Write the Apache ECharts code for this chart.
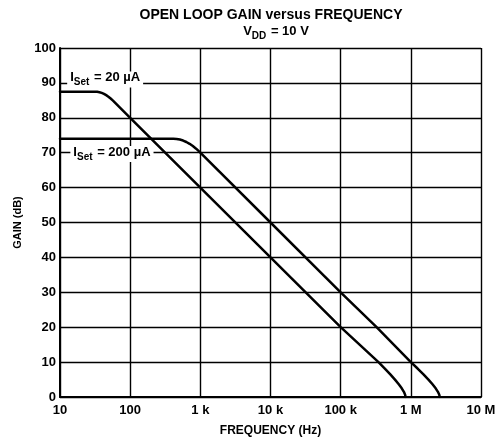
<!DOCTYPE html>
<html>
<head>
<meta charset="utf-8">
<script src="https://cdn.jsdelivr.net/npm/echarts@6/dist/echarts.min.js"></script>
<style>
html,body{margin:0;padding:0;background:#fff;}
#c{width:502px;height:442px;}
</style>
</head>
<body>
<div id="c"></div>
<script>
// Data: [frequency (Hz), gain (dB)]
var curve20uA = [
  [10, 87.5], [31.5, 87.5], [33.9, 87.46], [36.5, 87.34], [39.3, 87.14], [42.3, 86.86],
  [45.5, 86.49], [49.0, 86.05], [52.7, 85.53], [56.9, 84.93], [100, 80],
  [1000, 60], [10000, 40], [100000, 20], [346000, 10],
  [426000, 8.16], [510000, 6.48], [594000, 4.98], [673000, 3.64], [742000, 2.48],
  [796000, 1.48], [829000, 0.66], [841000, 0]
];
var curve200uA = [
  [10, 74], [412, 74], [459, 73.94], [510, 73.77], [568, 73.48], [632, 73.07],
  [703, 72.55], [782, 71.91], [870, 71.16], [968, 70.29],
  [10000, 50], [100000, 30], [325000, 20], [1000000, 10],
  [1249000, 8.16], [1514000, 6.48], [1782000, 4.98], [2036000, 3.64], [2259000, 2.48],
  [2432000, 1.48], [2543000, 0.66], [2581000, 0]
];
var xTickValues = [10, 100, 1000, 10000, 100000, 1000000, 10000000];
var xTickLabels = ['10', '100', '1 k', '10 k', '100 k', '1 M', '10 M'];
var seriesNames = ['ISet = 20 µA', 'ISet = 200 µA'];
var labelAnchors = [[44, 91], [55, 69.6]];

var FONT = "'Liberation Sans', Arial, sans-serif";
var chart = echarts.init(document.getElementById('c'));

function setLabel(rest) {
  return '{i|I}{s|Set}{i|' + rest + '}';
}
var richIset = {
  i: {fontFamily: FONT, fontSize: 13, fontWeight: 'bold', color: '#000', lineHeight: 16, verticalAlign: 'top'},
  s: {fontFamily: FONT, fontSize: 10, fontWeight: 'bold', color: '#000', lineHeight: 16, verticalAlign: 'bottom', padding: [5, 1, 0, 0]}
};

chart.setOption({
  animation: false,
  backgroundColor: '#fff',
  grid: {left: 60, right: 21, top: 48, bottom: 44},
  graphic: [
    {type: 'text', x: 271, y: 15, style: {text: 'OPEN LOOP GAIN versus FREQUENCY', fill: '#000',
      font: 'bold 14px ' + FONT, align: 'center', verticalAlign: 'middle'}},
    {type: 'text', x: 276, y: 33, style: {text: '{i|V}{s|DD}{i| = 10 V}', align: 'center', verticalAlign: 'middle',
      rich: {
        i: {fontFamily: FONT, fontSize: 13, fontWeight: 'bold', fill: '#000', lineHeight: 16, verticalAlign: 'top'},
        s: {fontFamily: FONT, fontSize: 10, fontWeight: 'bold', fill: '#000', lineHeight: 16, verticalAlign: 'bottom', padding: [5, 1, 0, 0]}
      }}}
  ],
  xAxis: {
    type: 'log', logBase: 10, min: 10, max: 10000000,
    name: 'FREQUENCY (Hz)', nameLocation: 'middle', nameGap: 28,
    nameTextStyle: {fontFamily: FONT, fontSize: 12, fontWeight: 'bold', color: '#000'},
    axisLine: {lineStyle: {color: '#000', width: 2}},
    axisTick: {show: false},
    minorTick: {show: false},
    splitLine: {show: true, lineStyle: {color: '#000', width: 1.4}},
    axisLabel: {
      color: '#000', fontFamily: FONT, fontSize: 13, fontWeight: 'bold', margin: 7,
      formatter: function (v) {
        for (var k = 0; k < xTickValues.length; k++) {
          if (Math.abs(Math.log10(v) - Math.log10(xTickValues[k])) < 1e-6) return xTickLabels[k];
        }
        return '';
      }
    }
  },
  yAxis: {
    type: 'value', min: 0, max: 100, interval: 10,
    name: 'GAIN (dB)', nameLocation: 'middle', nameGap: 36,
    nameTextStyle: {fontFamily: FONT, fontSize: 11, fontWeight: 'bold', color: '#000'},
    axisLine: {show: true, lineStyle: {color: '#000', width: 2}},
    axisTick: {show: false},
    splitLine: {show: true, lineStyle: {color: '#000', width: 1.4}},
    axisLabel: {color: '#000', fontFamily: FONT, fontSize: 13, fontWeight: 'bold', margin: 4}
  },
  series: [
    {
      name: seriesNames[0], type: 'line', data: curve20uA, showSymbol: false, smooth: false,
      lineStyle: {color: '#000', width: 2.5, join: 'round', cap: 'round'}, z: 3,
      markPoint: {
        symbol: 'rect', symbolSize: 1, itemStyle: {color: 'rgba(0,0,0,0)'},
        label: {show: true, position: 'inside', formatter: setLabel(' = 20 µA'), backgroundColor: '#fff',
          padding: [0, 3, 0, 3], rich: richIset},
        data: [{coord: labelAnchors[0]}]
      }
    },
    {
      name: seriesNames[1], type: 'line', data: curve200uA, showSymbol: false, smooth: false,
      lineStyle: {color: '#000', width: 2.5, join: 'round', cap: 'round'}, z: 3,
      markPoint: {
        symbol: 'rect', symbolSize: 1, itemStyle: {color: 'rgba(0,0,0,0)'},
        label: {show: true, position: 'inside', formatter: setLabel(' = 200 µA'), backgroundColor: '#fff',
          padding: [0, 3, 0, 3], rich: richIset},
        data: [{coord: labelAnchors[1]}]
      }
    }
  ]
});
</script>
</body>
</html>
